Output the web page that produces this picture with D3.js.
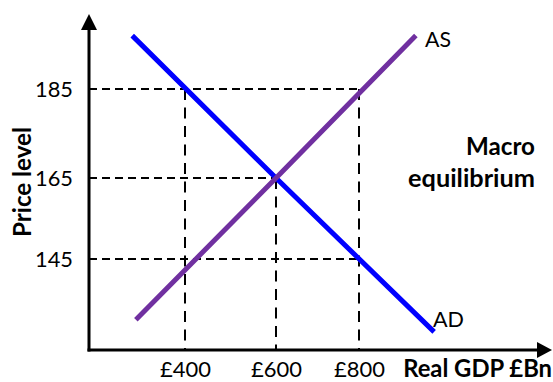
<!DOCTYPE html>
<html><head><meta charset="utf-8">
<script src="https://cdn.jsdelivr.net/npm/d3@7"></script>
<style>body{margin:0;background:#fff}svg{display:block}</style>
</head><body>
<script>
const gdpTicks = [400, 600, 800];
const priceTicks = [145, 165, 185];
const adGDP = [284, 600, 981];
const adPrice = [197, 165, 127];
const asGDP = [292, 600, 937];
const asPrice = [130, 165, 197];
const hGuides = [[185, 800], [165, 600], [145, 800]]; // price, up to gdp
const vGuides = [[400, 185], [600, 165], [800, 185]]; // gdp, from price

const W = 553, H = 382;
const x0 = 89, y0 = 350;
const svg = d3.select("body").append("svg").attr("width", W).attr("height", H);

const x = d3.scaleLinear().domain([400, 600, 800]).range([185, 276, 359]);
const y = d3.scaleLinear().domain([145, 165, 185]).range([259, 178, 89]);

const font = "Lato, 'Open Sans', sans-serif";

function fit(sel, targetW) {
  sel.attr("font-size", 20);
  const w = sel.node().getComputedTextLength();
  sel.attr("font-size", 20 * targetW / w);
  return sel;
}

// dashed guides
const g = svg.append("g").attr("stroke", "#000").attr("stroke-width", 2).attr("fill", "none");
hGuides.forEach(([p, q]) => g.append("line").attr("stroke-dasharray", "8,5")
  .attr("x1", x0).attr("x2", x(q)).attr("y1", y(p)).attr("y2", y(p)));
vGuides.forEach(([q, p]) => g.append("line").attr("stroke-dasharray", "11,7.5")
  .attr("x1", x(q)).attr("x2", x(q)).attr("y1", y(p)).attr("y2", y0));

// curves
const line = d3.line().x(d => x(d[0])).y(d => y(d[1]));
svg.append("path").datum(d3.zip(adGDP, adPrice)).attr("d", line)
  .attr("fill", "none").attr("stroke", "#0000FF").attr("stroke-width", 5);
svg.append("path").datum(d3.zip(asGDP, asPrice)).attr("d", line)
  .attr("fill", "none").attr("stroke", "#7030A0").attr("stroke-width", 5);

// axes
const xAxis = svg.append("g").attr("transform", `translate(0,${y0})`)
  .call(d3.axisBottom(x).tickValues(gdpTicks).tickFormat(d => "£" + d).tickSize(0).tickPadding(11));
const yAxis = svg.append("g").attr("transform", `translate(${x0 - 14},0)`)
  .call(d3.axisLeft(y).tickValues(priceTicks).tickSize(0).tickPadding(2));
[xAxis, yAxis].forEach(a => {
  a.select(".domain").remove();
  a.selectAll("text").attr("font-family", font).attr("fill", "#000");
});
xAxis.selectAll("text").each(function () { fit(d3.select(this), 51); });
yAxis.selectAll("text").each(function () { fit(d3.select(this), 38); });

svg.append("line").attr("x1", x0).attr("x2", x0).attr("y1", 26).attr("y2", y0 + 1.5)
  .attr("stroke", "#000").attr("stroke-width", 3);
svg.append("line").attr("x1", x0 - 1.5).attr("x2", 540).attr("y1", y0).attr("y2", y0)
  .attr("stroke", "#000").attr("stroke-width", 3);
svg.append("path").attr("d", `M${x0},14L${x0 - 8},30L${x0 + 8},30Z`).attr("fill", "#000");
svg.append("path").attr("d", `M552,${y0}L537,${y0 - 8}L537,${y0 + 8}Z`).attr("fill", "#000");

// labels
const t = (tx, ty, s, bold, anchor, tw) => fit(svg.append("text").attr("x", tx).attr("y", ty)
  .attr("text-anchor", anchor).attr("font-family", font).attr("font-weight", bold ? "bold" : "normal").text(s), tw);
t(552, 377, "Real GDP £Bn", true, "end", 149);
t(0, 0, "Price level", true, "middle", 110).attr("transform", "translate(31,182) rotate(-90)");
t(425, 47, "AS", false, "start", 26);
t(433, 327, "AD", false, "start", 31);
t(535, 155, "Macro", true, "end", 69);
t(535, 187, "equilibrium", true, "end", 127);
</script>
</body></html>
